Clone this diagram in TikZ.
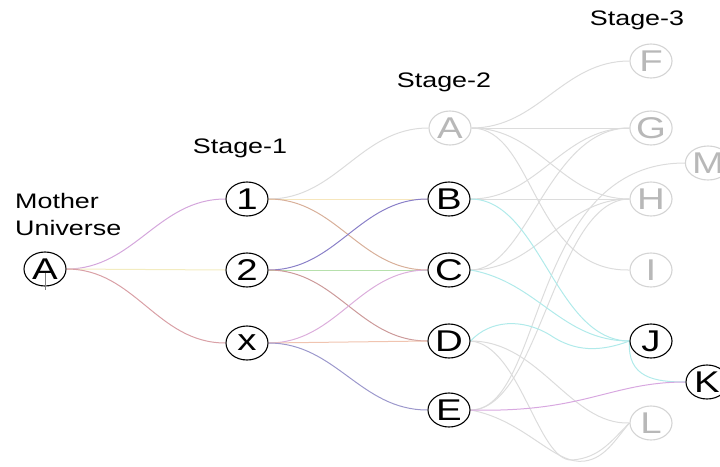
\documentclass[tikz,border=0pt]{standalone}
\usepackage{fontspec}
\setmainfont{Liberation Sans}[FakeStretch=1.28]
\usetikzlibrary{shapes.geometric,backgrounds}

% edge colours
\definecolor{eViolet}{HTML}{D4A6DC}
\definecolor{eCream}{HTML}{F3ECC0}
\definecolor{eRose}{HTML}{D9A0A6}
\definecolor{eGrey}{HTML}{DCDCDC}
\definecolor{eSand}{HTML}{F6E6BC}
\definecolor{eTan}{HTML}{D8B09A}
\definecolor{eSlate}{HTML}{8A80C8}
\definecolor{eGreen}{HTML}{B6E0AC}
\definecolor{eBrown}{HTML}{CC9A9A}
\definecolor{eOrchid}{HTML}{DCAEDC}
\definecolor{eSalmon}{HTML}{F0C4B0}
\definecolor{eLilac}{HTML}{9C98CC}
\definecolor{eCyan}{HTML}{B0EAEA}
\definecolor{ePink}{HTML}{D8A8E0}
\definecolor{fadeLine}{HTML}{D4D4D4}
\definecolor{fadeText}{HTML}{B8B8B8}

\begin{document}
\begin{tikzpicture}[x=1pt,y=-1pt,
  state/.style={ellipse, draw=black, line width=1.1pt, minimum width=42pt,
    minimum height=34pt, inner sep=0pt, fill=white, text=black,
    font=\fontsize{30}{30}\selectfont},
  faded/.style={state, draw=fadeLine, text=fadeText},
  stagelabel/.style={font=\fontsize{21}{25}\selectfont, anchor=base, inner sep=0pt},
  link/.style={line width=1pt},
  sig/.style={out=0, in=180},
]
\useasboundingbox (0,0) rectangle (720,466);

% titles
\node[font=\fontsize{21}{27}\selectfont, align=left, anchor=north west, inner sep=0pt]
  (title) at (15,193) {Mother\\Universe};
\node[stagelabel] (s1) at (240,153) {Stage-1};
\node[stagelabel] (s2) at (444,87) {Stage-2};
\node[stagelabel] (s3) at (637,25) {Stage-3};

% stage 0
\node[state] (mA) at (45,269) {A};
% stage 1
\node[state] (n1) at (247,199) {1};
\node[state] (n2) at (247,270) {2};
\node[state] (nx) at (247,343) {x};
% stage 2
\node[faded] (pA) at (450,128) {A};
\node[state] (pB) at (449,199) {B};
\node[state] (pC) at (449,270) {C};
\node[state] (pD) at (449,341) {D};
\node[state] (pE) at (449,410) {E};
% stage 3
\node[faded] (qF) at (651,61) {F};
\node[faded] (qG) at (651,128) {G};
\node[faded] (qM) at (708,163) {M};
\node[faded] (qH) at (651,199) {H};
\node[faded] (qI) at (651,270) {I};
\node[state] (qJ) at (651,341) {J};
\node[state] (qK) at (707,382) {K};
\node[faded] (qL) at (651,423) {L};

% thin mark under the root letter
\draw[gray, line width=0.6pt] ([yshift=-4pt]mA.center) -- ([yshift=-3pt]mA.south);

\begin{scope}[on background layer]
  % stage 0 -> stage 1
  \draw[link, eViolet] (mA.east) to[sig] (n1.west);
  \draw[link, eCream]  (mA.east) -- (n2.west);
  \draw[link, eRose]   (mA.east) to[sig] (nx.west);

  % stage 1 -> stage 2
  \draw[link, eGrey]   (n1.east) to[sig] (pA.west);
  \draw[link, eSand]   (n1.east) -- (pB.west);
  \draw[link, eTan]    (n1.east) to[sig] (pC.west);
  \draw[link, eSlate]  (n2.east) to[sig] (pB.west);
  \draw[link, eGreen]  (n2.east) -- (pC.west);
  \draw[link, eBrown]  (n2.east) to[sig] (pD.west);
  \draw[link, eOrchid] (nx.east) to[sig] (pC.west);
  \draw[link, eSalmon] (nx.east) -- (pD.west);
  \draw[link, eLilac]  (nx.east) to[sig] (pE.west);

  % stage 2 -> stage 3, faded branches
  \draw[link, eGrey] (pA.east) to[sig] (qF.west);
  \draw[link, eGrey] (pA.east) -- (qG.west);
  \draw[link, eGrey] (pA.east) to[sig] (qH.west);
  \draw[link, eGrey] (pA.east) .. controls (535,128) and (532,272) .. (qI.west);
  \draw[link, eGrey] (pB.east) to[sig] (qG.west);
  \draw[link, eGrey] (pB.east) -- (qH.west);
  \draw[link, eGrey] (pC.east) .. controls (528,270) and (548,128) .. (qG.west);
  \draw[link, eGrey] (pC.east) to[sig] (qH.west);
  \draw[link, eGrey] (pE.east) .. controls (540,410) and (555,199) .. (qH.west);
  \draw[link, eGrey] (pE.east) .. controls (545,410) and (528,163) .. (qM.west);
  \draw[link, eGrey] (pD.east) .. controls (540,341) and (570,425) .. (qL.west);
  \draw[link, eGrey] (pD.east) .. controls (520,345) and (538,462) .. (572,460)
                               .. controls (600,458) and (612,440) .. (qL.west);
  \draw[link, eGrey] (pE.east) .. controls (525,420) and (555,466) .. (585,461)
                               .. controls (605,458) and (615,440) .. (qL.west);

  % stage 2 -> stage 3, live branches
  \draw[link, eCyan] (pB.east) .. controls (540,199) and (555,341) .. (qJ.west);
  \draw[link, eCyan] (pC.east) to[out=-10, in=180] (qJ.west);
  \draw[link, eCyan] (pD.east) .. controls (490,320) and (522,318) .. (550,335)
                               .. controls (575,352) and (600,352) .. (qJ.west);
  \draw[link, eCyan] (qJ.west) .. controls (627,378) and (655,382) .. (qK.west);
  \draw[link, ePink] (pE.east) .. controls (585,413) and (610,382) .. (qK.west);
\end{scope}
\end{tikzpicture}
\end{document}
